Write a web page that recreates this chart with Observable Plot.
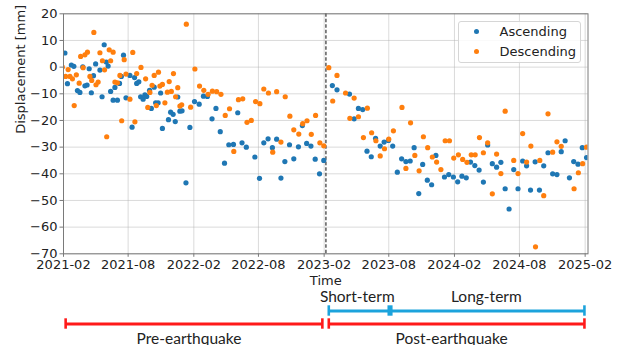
<!DOCTYPE html>
<html><head><meta charset="utf-8">
<script src="https://cdn.jsdelivr.net/npm/d3@7"></script>
<script src="https://cdn.jsdelivr.net/npm/@observablehq/plot@0.6"></script>
<style>
body{margin:0;background:#fff;}
#wrap{position:relative;width:625px;height:345px;overflow:hidden;font-family:"DejaVu Sans",sans-serif;}
#legend{position:absolute;left:457.5px;top:20.5px;width:123px;height:42px;border:1px solid #d6d6d6;border-radius:3px;background:rgba(255,255,255,0.85);box-sizing:border-box;font-size:13px;color:#222;}
#legend .row{position:absolute;left:0;height:16px;line-height:16px;white-space:nowrap;}
#legend .sw{position:absolute;left:15.5px;top:5.4px;width:5.2px;height:5.2px;border-radius:50%;}
#legend .lb{position:absolute;left:41px;top:0;}
</style></head><body><div id="wrap"></div>
<script>
// ---- data ----
const seriesNames = ["Ascending", "Descending"];
const seriesColors = ["#1f77b4", "#ff7f0e"];

const ascDates = ["2021-02-05","2021-02-12","2021-02-23","2021-03-02","2021-03-12","2021-03-19","2021-03-27","2021-04-02","2021-04-08","2021-04-14","2021-04-20","2021-04-26","2021-05-02","2021-05-14","2021-05-20","2021-05-26","2021-06-01","2021-06-06","2021-06-13","2021-06-20","2021-06-25","2021-07-02","2021-07-08","2021-07-13","2021-07-19","2021-07-26","2021-08-06","2021-08-12","2021-08-19","2021-08-25","2021-08-31","2021-09-05","2021-09-12","2021-09-17","2021-09-22","2021-09-30","2021-10-05","2021-10-13","2021-10-17","2021-10-24","2021-10-31","2021-11-05","2021-11-22","2021-11-28","2021-12-05","2021-12-11","2021-12-18","2021-12-24","2021-12-30","2022-01-10","2022-01-21","2022-02-03","2022-02-16","2022-02-28","2022-03-11","2022-03-24","2022-04-04","2022-04-16","2022-04-28","2022-05-10","2022-05-23","2022-06-04","2022-06-16","2022-06-28","2022-07-22","2022-08-04","2022-08-16","2022-08-28","2022-09-09","2022-09-21","2022-10-03","2022-10-14","2022-10-27","2022-11-08","2022-11-21","2022-12-02","2022-12-14","2022-12-26","2023-01-07","2023-01-19","2023-01-31",
"2023-02-24","2023-03-09","2023-04-13","2023-04-26","2023-05-08","2023-05-20","2023-06-01","2023-06-13","2023-06-25","2023-07-08","2023-07-19","2023-07-31","2023-08-12","2023-08-25","2023-09-06","2023-09-18","2023-09-30","2023-10-11","2023-10-24","2023-11-04","2023-11-17","2023-11-29","2023-12-11","2024-01-04","2024-01-16","2024-01-29","2024-02-10","2024-02-22","2024-03-05","2024-03-17","2024-03-29","2024-04-10","2024-04-22","2024-05-04","2024-05-17","2024-05-29","2024-06-10","2024-06-22","2024-07-03","2024-07-16","2024-07-28","2024-08-10","2024-08-21","2024-09-01","2024-09-14","2024-09-26","2024-10-08","2024-10-20","2024-11-02","2024-11-14","2024-11-26","2024-12-07","2024-12-19","2024-12-31","2025-01-12","2025-01-24","2025-02-05"];
const ascValues = [5.3,-6.2,0.8,0.3,-8.8,-9.5,0.1,-7,-6.7,-0.6,-9.6,-3.2,1.2,-1.1,-11.1,8.4,1.9,0.4,-9.1,-12.4,-7.6,-12.4,-6.1,-3.5,4.5,-11.5,-3.1,-22.5,-3.9,-6.1,-5.5,-11.1,-12,-10.4,-11,-8.7,-15.5,-7.5,-13.4,-13.4,-9.7,-23,-19.7,-16.9,-17.7,-20.4,-11.2,-16.5,-16.4,-43.4,-22.6,-12.9,-13.9,-10.9,-11,-19.4,-15.5,-24.2,-36,-29.1,-29,-17.1,-28.4,-30,-33.7,-41.7,-28.4,-26.9,-30.2,-27,-41.6,-35.4,-29.1,-34.4,-29.9,-21.9,-28.6,-29.6,-34.5,-40,-35,
-6.9,-8.5,-10.1,-19.4,-15.5,-15.9,-31.5,-33.6,-26.7,-29.6,-28.1,-27.5,-29.6,-39.4,-34.4,-35.4,-35.2,-30.2,-47.4,-36.5,-42.4,-44.1,-33.1,-41.2,-40.3,-41.2,-43,-40.9,-41.5,-35.6,-36.9,-38.6,-43.1,-29.2,-36.2,-37.5,-35.7,-45.6,-53.2,-38.4,-45.6,-35.2,-37,-46.1,-35.5,-46.1,-37,-32.1,-40,-40.3,-31.7,-27.6,-41.5,-35.4,-36.4,-30.2,-33.9];

const descDates = ["2021-01-29","2021-02-07","2021-02-14","2021-02-19","2021-02-26","2021-03-03","2021-03-09","2021-03-17","2021-03-21","2021-03-28","2021-04-02","2021-04-09","2021-04-16","2021-04-21","2021-04-27","2021-05-03","2021-05-09","2021-05-14","2021-05-21","2021-05-27","2021-06-02","2021-06-09","2021-06-13","2021-06-20","2021-06-25","2021-07-02","2021-07-09","2021-07-14","2021-07-21","2021-07-26","2021-08-06","2021-08-14","2021-08-20","2021-08-25","2021-09-06","2021-09-19","2021-09-25","2021-10-01","2021-10-07","2021-10-13","2021-10-19","2021-10-25","2021-10-29","2021-11-05","2021-11-12","2021-11-19","2021-11-24","2021-11-30","2021-12-06","2021-12-12","2021-12-18","2021-12-24","2021-12-29",
"2022-01-11","2022-01-23","2022-02-04","2022-02-17","2022-03-01","2022-03-13","2022-03-25","2022-04-06","2022-04-18","2022-04-30","2022-05-12","2022-05-24","2022-06-06","2022-06-18","2022-06-30","2022-07-12","2022-07-24","2022-08-05","2022-08-16","2022-08-29","2022-09-10","2022-09-21","2022-10-03","2022-10-15","2022-10-28","2022-11-08","2022-11-22","2022-12-03","2022-12-15","2022-12-27","2023-01-08","2023-01-20","2023-01-31",
"2023-02-14","2023-02-25","2023-03-09","2023-04-02","2023-04-14","2023-04-26","2023-05-08","2023-05-22","2023-06-02","2023-06-14","2023-06-26","2023-07-08","2023-07-20","2023-08-01","2023-08-14","2023-09-07","2023-09-18","2023-10-01","2023-10-13","2023-10-25","2023-11-06","2023-11-18","2023-12-01","2023-12-13","2023-12-25",
"2024-01-06","2024-01-18","2024-01-30","2024-02-12","2024-02-24","2024-03-07","2024-03-19","2024-03-30","2024-04-11","2024-04-22","2024-05-04","2024-05-17","2024-05-29","2024-06-10","2024-06-22","2024-07-16","2024-07-28","2024-08-10","2024-08-21","2024-09-02","2024-09-15","2024-09-27","2024-10-08","2024-10-20","2024-11-02","2024-11-14","2024-11-26","2025-01-01","2025-01-13","2025-01-25","2025-02-05"];
const descValues = [0,-3.5,-0.9,-3.5,-4.4,-14.4,-2.9,-6,4,-0.2,4.6,5.6,-3.5,-5,13,-6.6,-5.6,5.4,2.4,-1,-26.1,6.5,2.4,5.6,-5.6,-5.9,-3.1,-20.1,2.8,-2.6,-12,5.5,-20.5,-2.4,-0.1,-4.4,-15.1,-9.5,-6.8,-3.1,-14.4,-1.9,-7.1,-6.5,-13.4,-9.4,-5.4,-9.1,-2.4,-11.1,-7.7,-14.6,-14.1,
16.1,-15,-0.7,-7.1,-8.7,-10.2,-9,-9.2,-10.2,-18.1,-15.6,-31.6,-12.2,-11.9,-20.7,-20,-12.9,-13.7,-8.2,-9.7,-31.9,-9.2,-28.1,-11.1,-18.4,-23.5,-25.1,-21.2,-20.1,-25.2,-18.1,-28.4,-29.5,
-0.2,-12.7,-3.1,-9.7,-19.2,-11.6,-18.6,-26.4,-15.4,-24.6,-27.6,-33.3,-30.6,-27,-23.9,-15.1,-38,-20.9,-33.1,-38.9,-26.1,-30.2,-33.7,-35.6,-38.4,
-27.6,-27.6,-34.1,-32.9,-34.6,-35.7,-32.9,-32.9,-26.4,-32.1,-28.4,-47.5,-32.6,-39.9,-16.5,-35,-39.9,-24.9,-35.6,-29.6,-67.4,-35,-48.2,-17.5,-31.9,-28,-29.7,-45.6,-39.6,-36.2,-30];

const xTickLabels = ["2021-02","2021-08","2022-02","2022-08","2023-02","2023-08","2024-02","2024-08","2025-02"];
const yTicks = [-70,-60,-50,-40,-30,-20,-10,0,10,20];
const xDomain = ["2021-02-01","2025-02-09"];
const yDomain = [-70, 20];
const earthquakeDate = "2023-02-06";
const xLabel = "Time";
const yLabel = "Displacement [mm]";

const periodNames  = ["Pre-earthquake","Post-earthquake","Short-term","Long-term"];
const periodStarts = ["2021-02-07","2023-02-14","2023-02-14","2023-08-08"];
const periodEnds   = ["2023-01-27","2025-01-30","2023-08-01","2025-01-30"];
const periodKinds  = ["phase","phase","term","term"];

// ---- build tables ----
const utc = s => new Date(s + (s.length === 7 ? "-01" : "") + "T00:00:00Z");
const asc = ascDates.map((d, i) => ({date: utc(d), value: ascValues[i]}));
const desc = descDates.map((d, i) => ({date: utc(d), value: descValues[i]}));
const xTicks = xTickLabels.map(utc);
const periods = periodNames.map((n, i) => ({
  name: n, start: utc(periodStarts[i]), end: utc(periodEnds[i]),
  row: periodKinds[i] === "phase" ? "redBar" : "blueBar",
  labelRow: periodKinds[i] === "phase" ? "bottomLabel" : "topLabel",
  color: periodKinds[i] === "phase" ? "#ff1a1a" : "#1ca3dc",
  kind: periodKinds[i]
}));

const ML = 63, MR = 37.5, W = 625;
const fmtY = d => d < 0 ? "\u2212" + Math.abs(d) : String(d);

const main = Plot.plot({
  width: W, height: 287,
  marginLeft: ML, marginRight: MR, marginTop: 13.3, marginBottom: 33.7,
  style: {fontFamily: "DejaVu Sans", fontSize: "13px", color: "#222", background: "transparent", overflow: "visible"},
  x: {type: "utc", domain: xDomain.map(utc)},
  y: {domain: yDomain},
  marks: [
    Plot.gridX(xTicks, {stroke: "#b0b0b0", strokeOpacity: 0.45, strokeWidth: 1}),
    Plot.gridY(yTicks, {stroke: "#b0b0b0", strokeOpacity: 0.45, strokeWidth: 1}),
    Plot.ruleX([utc(earthquakeDate)], {stroke: "#333", strokeWidth: 1.2, strokeDasharray: "3.5,2"}),
    Plot.dot(asc, {x: "date", y: "value", r: 2.6, fill: seriesColors[0], clip: true}),
    Plot.dot(desc, {x: "date", y: "value", r: 2.6, fill: seriesColors[1], clip: true}),
    Plot.frame({stroke: "#7a7a7a", strokeWidth: 1}),
    Plot.axisX(xTicks, {tickSize: 3.5, tickPadding: 2, stroke: "#7a7a7a", tickFormat: d3.utcFormat("%Y-%m"), label: null, fontSize: 13}),
    Plot.axisY(yTicks, {tickSize: 3.5, tickPadding: 2.5, stroke: "#7a7a7a", tickFormat: fmtY, label: null, fontSize: 13}),
    Plot.text([xLabel], {frameAnchor: "bottom", dy: 27, lineAnchor: "middle", fontSize: 13, fill: "#222"}),
    Plot.text([yLabel], {frameAnchor: "left", dx: -43, rotate: -90, lineAnchor: "middle", fontSize: 13, fill: "#222"})
  ]
});

const rows = ["topLabel", "blueBar", "redBar", "bottomLabel"];
const midDate = d => new Date((+d.start + +d.end) / 2);
const timeline = Plot.plot({
  width: W, height: 58,
  marginLeft: ML, marginRight: MR, marginTop: 0, marginBottom: 0,
  style: {fontFamily: "Lato", fontSize: "15.5px", color: "#222", background: "transparent", overflow: "visible"},
  x: {type: "utc", domain: xDomain.map(utc), axis: null},
  y: {type: "band", domain: rows, range: [3.3, 56.6], padding: 0, axis: null},
  color: {type: "identity"},
  marks: [
    Plot.ruleY(periods, {x1: "start", x2: "end", y: "row", stroke: "color", strokeWidth: 3}),
    Plot.tickX(periods, {x: "start", y: "row", stroke: "color", strokeWidth: 2.6, insetTop: 1.3, insetBottom: 1.3}),
    Plot.tickX(periods, {x: "end", y: "row", stroke: "color", strokeWidth: 2.6, insetTop: 1.3, insetBottom: 1.3}),
    Plot.text(periods.filter(d => d.kind === "term"), {x: midDate, y: "labelRow", text: "name", dx: -1.5, dy: -0.5, fill: "#222", fontFamily: "Lato", fontSize: 15.5}),
    Plot.text(periods.filter(d => d.kind === "phase"), {x: midDate, y: "labelRow", text: "name", dx: -5, dy: 2, fill: "#222", fontFamily: "Lato", fontSize: 15.5})
  ]
});

const wrap = document.getElementById("wrap");
wrap.appendChild(main);
wrap.appendChild(timeline);

// legend (inside the axes, upper right)
const legend = document.createElement("div");
legend.id = "legend";
seriesNames.forEach((name, i) => {
  const row = document.createElement("div");
  row.className = "row";
  row.style.top = (2.4 + i * 19.7) + "px";
  row.style.width = "100%";
  const sw = document.createElement("span");
  sw.className = "sw";
  sw.style.background = seriesColors[i];
  const lb = document.createElement("span");
  lb.className = "lb";
  lb.textContent = name;
  row.appendChild(sw); row.appendChild(lb);
  legend.appendChild(row);
});
wrap.appendChild(legend);
</script>
</body></html>
